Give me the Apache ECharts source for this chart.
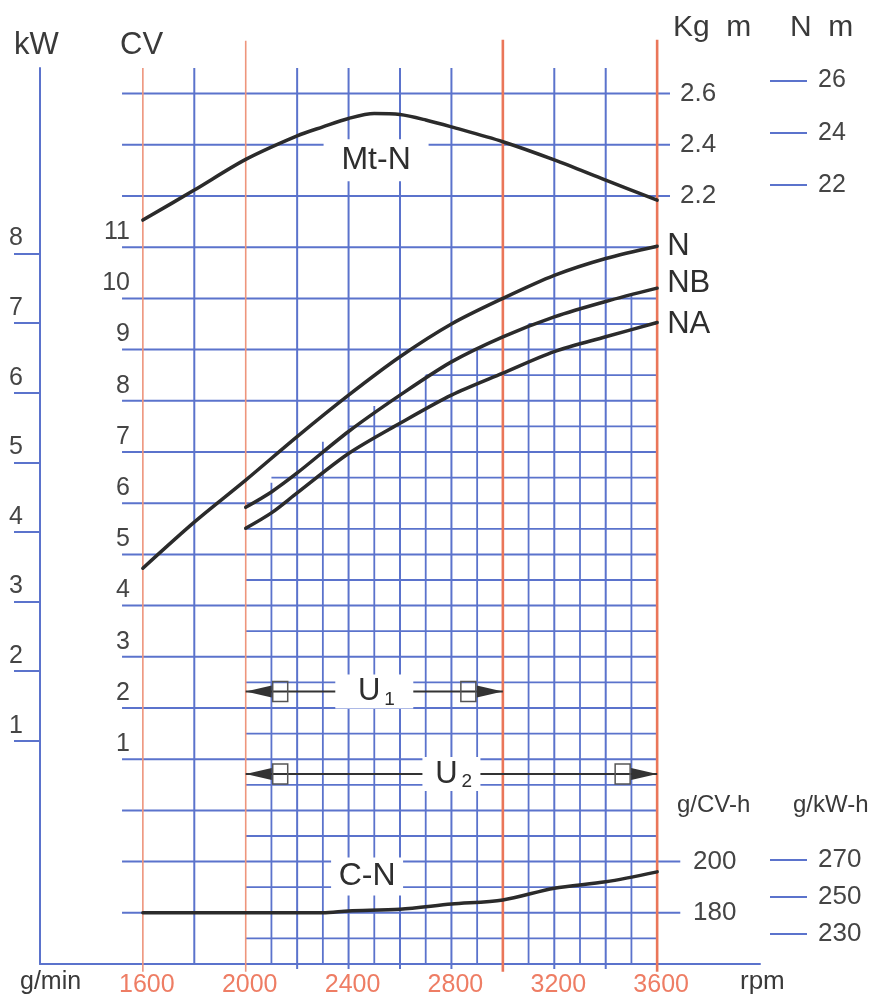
<!DOCTYPE html>
<html>
<head>
<meta charset="utf-8">
<title>Curve caratteristiche motore</title>
<script src="https://cdn.jsdelivr.net/npm/echarts@6/dist/echarts.min.js"></script>
<style>
  html, body { margin: 0; padding: 0; background: #fff; }
  #chart { width: 885px; height: 997px; }
</style>
</head>
<body>
<div id="chart"></div>
<script>
// tick labels
const rpmTicks = [1600, 2000, 2400, 2800, 3200, 3600]
const cvTicks = [1, 2, 3, 4, 5, 6, 7, 8, 9, 10, 11]
const kwTicks = [1, 2, 3, 4, 5, 6, 7, 8]
const kgmTicks = [2.2, 2.4, 2.6]
const nmTicks = [22, 24, 26]
const gcvTicks = [180, 200]
const gkwTicks = [230, 250, 270]

// power curves (CV)
const rpmN = [1600, 1800, 2000, 2200, 2400, 2600, 2800, 3000, 3200, 3400, 3600]
const powerN = [4.73, 5.63, 6.45, 7.3, 8.11, 8.86, 9.5, 10.0, 10.45, 10.78, 11.02]
const rpmNB = [2000, 2100, 2200, 2400, 2600, 2800, 3000, 3200, 3400, 3600]
const powerNB = [5.92, 6.22, 6.59, 7.4, 8.11, 8.76, 9.25, 9.64, 9.94, 10.2]
const rpmNA = [2000, 2100, 2200, 2400, 2600, 2800, 3000, 3200, 3400, 3600]
const powerNA = [5.51, 5.81, 6.2, 6.97, 7.56, 8.11, 8.54, 8.96, 9.25, 9.53]

// torque (Kg m)
const rpmMt = [1600, 1800, 2000, 2200, 2300, 2400, 2500, 2600, 2700, 2800, 3000, 3200, 3400, 3600]
const torqueMt = [2.106, 2.223, 2.343, 2.435, 2.47, 2.503, 2.522, 2.518, 2.497, 2.47, 2.412, 2.341, 2.262, 2.184]

// specific consumption (g/CV-h)
const rpmC = [1600, 2000, 2300, 2400, 2600, 2800, 3000, 3200, 3400, 3600]
const fuelC = [180, 180, 180, 180.7, 181.4, 183.4, 185, 189.6, 192.1, 196]

// usage ranges (rpm)
const u1Rpm = [2000, 3000]
const u2Rpm = [2000, 3600]

const CV_KW = 0.7355
const KGM_NM = 9.80665

const BLUE = '#5b73cc'
const RED = '#ea7659'
const RED_LIGHT = '#ee957c'
const INK = '#2e2e2e'
const NUM = '#454545'
const FONT = 'Liberation Sans, Arial, sans-serif'

// grid in "row units": one coarse square = 1, 0 on the rpm axis
const fineColTop = { 2100: 9.4, 2300: 10.2, 2500: 10.9, 2700: 11.5, 2900: 12.0, 3100: 12.5, 3300: 13.0, 3500: 13.05 }
const fineRowStart = { 9.5: 2100, 10.5: 2400, 11.5: 2700, 12.5: 3100 }
const ARROW_LEVELS = [2.32, 0.71]
const ARROW_BOX = [78, 58]

const chart = echarts.init(document.getElementById('chart'))

function gridItem(params, api) {
  const kids = []
  const seg = (x1, u1, x2, u2, color, w) => {
    const a = api.coord([x1, u1])
    const b = api.coord([x2, u2])
    kids.push({ type: 'line', shape: { x1: a[0], y1: a[1], x2: b[0], y2: b[1] }, style: { stroke: color, lineWidth: w } })
  }
  // fine rows
  for (let u = 0.5; u <= 12.5; u += 1) {
    const start = fineRowStart[u] || 2000
    seg(start, u, 3600, u, BLUE, 1.8)
  }
  // fine columns
  Object.keys(fineColTop).forEach(r => seg(+r, -0.02, +r, fineColTop[r], BLUE, 1.8))
  // coarse rows
  for (let u = 1; u <= 17; u++) {
    const end = u <= 2 ? 3690 : (u >= 15 ? 3650 : 3600)
    seg(1519, u, end, u, BLUE, 2)
  }
  // coarse columns
  ;[1800, 2200, 2400, 2600, 2800, 3200, 3400].forEach(r => seg(r, r > 2000 ? -0.1 : 0, r, 17.5, BLUE, 2))
  // red rpm lines
  seg(1600, -0.15, 1600, 17.5, RED_LIGHT, 1.6)
  seg(2000, -0.15, 2000, 18.03, RED_LIGHT, 1.6)
  seg(3000, -0.15, 3000, 18.05, RED, 2.6)
  seg(3600, -0.15, 3600, 18.05, RED, 2.6)
  return { type: 'group', children: kids }
}

function boxLabel(x, y, w, h, text) {
  return [
    { type: 'rect', shape: { x: x - w / 2, y: y - h / 2, width: w, height: h }, style: { fill: '#fff' } },
    { type: 'text', x: x, y: y, style: { text: text, fontSize: 32, fontFamily: FONT, fill: INK, align: 'center', verticalAlign: 'middle' } }
  ]
}

function labelItem(params, api) {
  const mt = api.coord([2507, 15.70])
  const cn = api.coord([2472, 1.71])
  return {
    type: 'group',
    children: [].concat(boxLabel(mt[0], mt[1], 105, 42, 'Mt-N'), boxLabel(cn[0], cn[1], 72, 38, 'C-N'))
  }
}

function arrowHead(tipX, y, dir) {
  // dir = -1 points left, +1 points right
  return [
    { type: 'polygon', shape: { points: [[tipX, y], [tipX - dir * 26, y - 6], [tipX - dir * 26, y + 6]] }, style: { fill: '#333' } },
    { type: 'rect', shape: { x: Math.min(tipX - dir * 27, tipX - dir * 42), y: y - 10, width: 15, height: 20 }, style: { fill: 'none', stroke: '#555', lineWidth: 1.5 } }
  ]
}

function arrowItem(params, api) {
  const i = params.dataIndex
  const lvl = ARROW_LEVELS[i]
  const a = api.coord([api.value(0), lvl])
  const b = api.coord([api.value(1), lvl])
  const y = a[1]
  const mid = (a[0] + b[0]) / 2
  const w = ARROW_BOX[i]
  return {
    type: 'group',
    children: [
      { type: 'line', shape: { x1: a[0], y1: y, x2: b[0], y2: y }, style: { stroke: '#333', lineWidth: 2 } }
    ].concat(arrowHead(a[0], y, -1), arrowHead(b[0], y, 1), [
      { type: 'rect', shape: { x: mid - w / 2, y: y - 17, width: w, height: 34 }, style: { fill: '#fff' } },
      { type: 'text', x: mid - 5, y: y, style: { text: 'U', fontSize: 31, fontFamily: FONT, fill: INK, align: 'center', verticalAlign: 'middle' } },
      { type: 'text', x: mid + 10, y: y + 8, style: { text: String(i + 1), fontSize: 19, fontFamily: FONT, fill: INK, align: 'left', verticalAlign: 'middle' } }
    ])
  }
}

const curve = (name, rpm, vals, yAxisIndex, extra) => Object.assign({
  name: name,
  type: 'line',
  xAxisIndex: 0,
  yAxisIndex: yAxisIndex,
  data: rpm.map((r, i) => [r, vals[i]]),
  smooth: 0.3,
  showSymbol: false,
  symbol: 'none',
  z: 5,
  lineStyle: { color: '#2b2b2b', width: 3.5, cap: 'round' }
}, extra || {})

const endLabel = (dy) => ({
  show: true, formatter: '{a}', distance: 10, offset: [0, dy],
  fontSize: 31, fontFamily: FONT, color: INK
})

const plain = v => String(v)
const headText = (x, y, text, size, align) => ({
  type: 'text', x: x, y: y,
  style: { text: text, fontSize: size, fontFamily: FONT, fill: '#3a3a3a', align: align || 'left', verticalAlign: 'middle' }
})

chart.setOption({
  animation: false,
  textStyle: { fontFamily: FONT },
  grid: { left: 40, right: 125, top: 68, bottom: 33, containLabel: false, outerBoundsMode: 'none' },
  xAxis: {
    type: 'value', min: 1200, max: 4000,
    axisLine: { show: true, lineStyle: { color: BLUE, width: 2 } },
    axisTick: { show: false },
    splitLine: { show: false },
    axisLabel: { customValues: rpmTicks, formatter: plain, margin: 9, fontSize: 25, color: '#ee7d64', fontFamily: FONT, padding: [0, 0, 0, 8] }
  },
  yAxis: [
    { type: 'value', min: 0, max: 17.5, show: false },
    {
      // CV
      type: 'value', position: 'left', min: -3, max: 14.5,
      axisLine: { show: false }, axisTick: { show: false }, splitLine: { show: false },
      axisLabel: { customValues: cvTicks, formatter: plain, inside: true, margin: 90, align: 'right', verticalAlign: 'bottom', lineHeight: 30, fontSize: 25, color: NUM, fontFamily: FONT }
    },
    {
      // kW
      type: 'value', position: 'left', min: -3 * CV_KW, max: 14.5 * CV_KW,
      axisLine: { show: true, lineStyle: { color: BLUE, width: 2 } },
      axisTick: { show: true, customValues: kwTicks, length: 26, lineStyle: { color: BLUE, width: 2 } },
      splitLine: { show: false },
      axisLabel: { customValues: kwTicks, formatter: plain, margin: 31, align: 'left', verticalAlign: 'bottom', lineHeight: 30, fontSize: 25, color: NUM, fontFamily: FONT }
    },
    {
      // Kg m
      type: 'value', position: 'right', min: -0.8, max: 2.7,
      axisLine: { show: false }, axisTick: { show: false }, splitLine: { show: false },
      axisLabel: { customValues: kgmTicks, inside: true, margin: 80, align: 'left', fontSize: 26, color: NUM, fontFamily: FONT, formatter: v => v.toFixed(1) }
    },
    {
      // N m
      type: 'value', position: 'right', offset: 10, min: -0.8 * KGM_NM, max: 2.7 * KGM_NM,
      axisLine: { show: false },
      axisTick: { show: true, customValues: nmTicks, length: 37, lineStyle: { color: BLUE, width: 2 } },
      splitLine: { show: false },
      axisLabel: { customValues: nmTicks, formatter: plain, margin: 48, align: 'left', fontSize: 25, color: NUM, fontFamily: FONT }
    },
    {
      // g/CV-h
      type: 'value', position: 'right', min: 160, max: 510,
      axisLine: { show: false }, axisTick: { show: false }, splitLine: { show: false },
      axisLabel: { customValues: gcvTicks, formatter: plain, inside: true, margin: 67, align: 'left', fontSize: 26, color: NUM, fontFamily: FONT }
    },
    {
      // g/kW-h
      type: 'value', position: 'right', offset: 10, min: 213.8, max: 698.2,
      axisLine: { show: false },
      axisTick: { show: true, customValues: gkwTicks, length: 37, lineStyle: { color: BLUE, width: 2 } },
      splitLine: { show: false },
      axisLabel: { customValues: gkwTicks, formatter: plain, margin: 48, align: 'left', fontSize: 26, color: NUM, fontFamily: FONT }
    }
  ],
  graphic: [
    headText(14, 45, 'kW', 31),
    headText(120, 45, 'CV', 31),
    headText(673, 28, 'Kg  m', 30),
    headText(790, 28, 'N  m', 30),
    headText(677, 805, 'g/CV-h', 24),
    headText(793, 805, 'g/kW-h', 24),
    headText(20, 982, 'g/min', 25),
    headText(740, 982, 'rpm', 26)
  ],
  series: [
    { type: 'custom', name: 'grid', xAxisIndex: 0, yAxisIndex: 0, silent: true, z: 1, data: [[2000, 5]], renderItem: gridItem },
    { type: 'custom', name: 'ranges', xAxisIndex: 0, yAxisIndex: 1, silent: true, z: 3, data: [u1Rpm, u2Rpm], renderItem: arrowItem },
    { type: 'custom', name: 'labels', xAxisIndex: 0, yAxisIndex: 0, silent: true, z: 3, data: [[2000, 5]], renderItem: labelItem },
    curve('Mt-N', rpmMt, torqueMt, 3),
    curve('N', rpmN, powerN, 1, { endLabel: endLabel(0) }),
    curve('NB', rpmNB, powerNB, 1, { endLabel: endLabel(-5) }),
    curve('NA', rpmNA, powerNA, 1, { endLabel: endLabel(2) }),
    curve('C-N', rpmC, fuelC, 5)
  ]
})
</script>
</body>
</html>
